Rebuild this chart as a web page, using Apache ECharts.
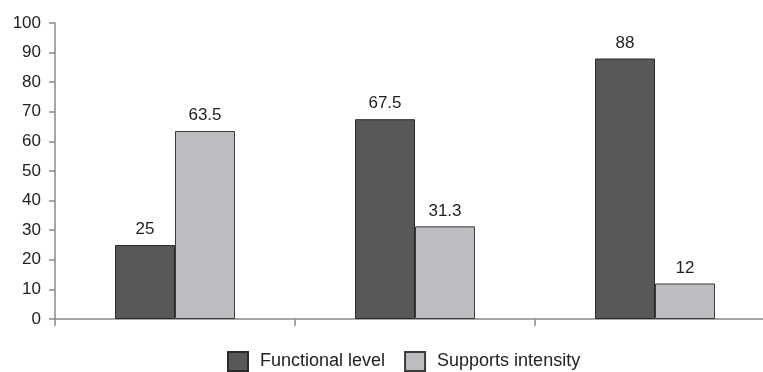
<!DOCTYPE html>
<html>
<head>
<meta charset="utf-8">
<script src="https://cdn.jsdelivr.net/npm/echarts@6/dist/echarts.min.js"></script>
<style>
  html, body { margin: 0; padding: 0; background: #fff; overflow: hidden; }
  #wrap { width: 763px; height: 372px; overflow: hidden; }
  /* the plot runs past the right edge, so the canvas is a little wider than the view */
  #chart { width: 780px; height: 372px; }
</style>
</head>
<body>
<div id="wrap"><div id="chart"></div></div>
<script>
// Three groups, each comparing functional level with supports intensity
const categories = ['A', 'B', 'C'];
const functionalLevel = [25, 67.5, 88];
const supportsIntensity = [63.5, 31.3, 12];
const yTicks = { min: 0, max: 100, interval: 10 };

const chart = echarts.init(document.getElementById('chart'));

const labelStyle = {
  show: true,
  position: 'top',
  distance: 7,
  color: '#222',
  fontSize: 17,
  fontFamily: 'Liberation Sans, Arial, sans-serif'
};

chart.setOption({
  animation: false,
  textStyle: { fontFamily: 'Liberation Sans, Arial, sans-serif' },
  grid: { left: 55, top: 23, bottom: 53, width: 720, containLabel: false },
  legend: {
    bottom: -5,
    left: 222,
    itemWidth: 20,
    itemHeight: 19,
    itemGap: 19,
    icon: 'rect',
    textStyle: { fontSize: 18, color: '#222', padding: [0, 0, 0, 7] },
    data: ['Functional level', 'Supports intensity']
  },
  xAxis: {
    type: 'category',
    data: categories,
    boundaryGap: true,
    axisLine: { lineStyle: { color: '#8a8a8a', width: 1.5 } },
    axisTick: { show: true, length: 7, lineStyle: { color: '#8a8a8a', width: 1.5 } },
    axisLabel: { show: false }
  },
  yAxis: {
    type: 'value',
    min: yTicks.min,
    max: yTicks.max,
    interval: yTicks.interval,
    axisLine: { show: true, lineStyle: { color: '#8a8a8a', width: 1.5 } },
    axisTick: { show: true, length: 6, lineStyle: { color: '#8a8a8a', width: 1.5 } },
    axisLabel: { fontSize: 17, color: '#222', margin: 14 },
    splitLine: { show: false }
  },
  series: [
    {
      name: 'Functional level',
      type: 'bar',
      data: functionalLevel,
      barWidth: 60,
      barGap: '0%',
      itemStyle: { color: '#58585a', borderColor: '#2a2a2a', borderWidth: 1 },
      label: labelStyle
    },
    {
      name: 'Supports intensity',
      type: 'bar',
      data: supportsIntensity,
      barWidth: 60,
      barGap: '0%',
      itemStyle: { color: '#bcbdc1', borderColor: '#3a3a3a', borderWidth: 1 },
      label: labelStyle
    }
  ]
});
</script>
</body>
</html>
